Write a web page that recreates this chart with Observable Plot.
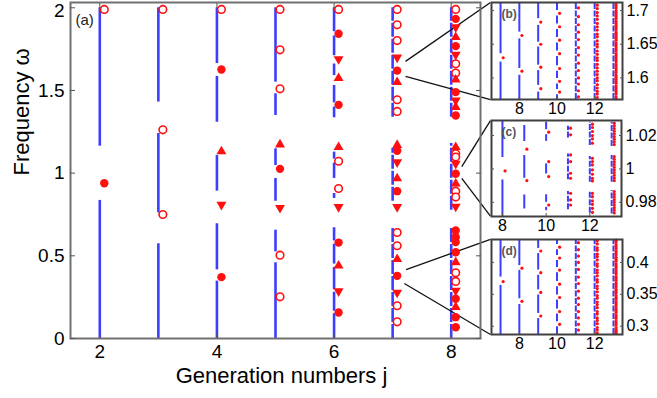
<!DOCTYPE html>
<html><head><meta charset="utf-8">
<script src="https://cdn.jsdelivr.net/npm/d3@7"></script>
<script src="https://cdn.jsdelivr.net/npm/@observablehq/plot@0.6"></script>
<style>
html,body{margin:0;padding:0;background:#fff;}
#chart{position:relative;width:657px;height:398px;overflow:hidden;font-family:"Liberation Sans",Arial,sans-serif;}
#chart svg{position:absolute;overflow:visible;background:transparent;}
</style></head><body><div id="chart"></div>
<script>
// ---------- main panel (a) ----------
const mainXTicks = [2, 4, 6, 8];
const mainYTicks = [0, 0.5, 1, 1.5, 2];
// spectral bands: [generation j, lower ω, upper ω]
const mainBands = [
  [2,0,0.835],[2,1.163,2.0],
  [3,0,0.573],[3,0.76,1.24],[3,1.43,2.0],
  [4,0,0.347],[4,0.415,0.694],[4,0.891,1.107],[4,1.308,1.585],[4,1.663,2.0],
  [5,0,0.458],[5,0.524,0.655],[5,0.83,0.968],[5,1.046,1.147],[5,1.349,1.48],[5,1.55,2.0],
  [6,0,0.15],[6,0.165,0.28],[6,0.295,0.43],[6,0.45,0.57],[6,0.59,0.67],[6,0.847,0.877],
  [6,0.968,1.06],[6,1.085,1.127],[6,1.335,1.40],[6,1.425,1.53],[6,1.59,1.66],[6,1.71,1.83],[6,1.855,2.0],
  [7,0,0.665],[7,0.83,1.15],[7,1.338,2.0],
  [8,0,0.677],[8,0.776,1.18],[8,1.338,2.0]
];
// gap / edge states: [j, ω]
const openCircles = [
  [2,1.99],[3,1.99],[3,1.262],[3,0.75],[4,1.99],[5,1.99],[5,1.746],[5,1.51],[5,0.504],[5,0.252],
  [6,1.99],[6,1.072],[6,0.907],[7,1.99],[7,1.897],[7,1.802],[7,1.444],[7,1.373],[7,0.641],[7,0.561],
  [7,0.198],[7,0.101],[8,1.99],[8,1.661],[8,1.605],[8,1.117],[8,1.097],[8,0.891],[8,0.855],[8,0.397],[8,0.345]
];
const filledCircles = [
  [2,0.939],[4,1.627],[4,0.371],[5,1.026],[6,1.843],[6,1.413],[6,0.58],[6,0.157],[7,1.62],[7,1.135],
  [7,0.891],[7,0.379],[8,1.933],[8,1.768],[8,1.49],[8,1.349],[8,0.996],[8,0.653],[8,0.613],[8,0.583],
  [8,0.522],[8,0.24],[8,0.129],[8,0.068]
];
const upTriangles = [
  [4,1.131],[5,1.173],[6,1.574],[6,1.157],[6,0.44],[7,1.55],[7,1.17],[7,0.968],[7,0.48],[8,1.822],
  [8,1.565],[8,1.40],[8,1.157],[8,0.936],[8,0.461],[8,0.19]
];
const downTriangles = [
  [4,0.809],[5,0.79],[6,1.69],[6,0.796],[6,0.286],[7,1.70],[7,1.066],[7,0.796],[7,0.278],[8,1.883],
  [8,1.716],[8,1.44],[8,1.057],[8,0.798],[8,0.29]
];
// zoom connector lines: [from j, from ω, to j, to ω] (to = inset corner)
const zoomLinks = [
  [7.22,1.676,8.67,2.032],[7.22,1.585,8.67,1.445],
  [8.18,1.04,8.67,1.318],[8.18,0.968,8.67,0.740],
  [7.23,0.417,8.67,0.599],[7.2,0.333,8.67,0.024]
];

// ---------- inset (b) ----------
const bYTicks = [1.6, 1.65, 1.7];
const bBands = [
  [7,1.568,1.6235],[7,1.636,1.712],
  [8,1.568,1.604],[8,1.614,1.658],[8,1.668,1.712],
  [9,1.568,1.579],[9,1.589,1.611],[9,1.619,1.646],[9,1.653,1.678],[9,1.688,1.712],
  [10,1.568,1.575],[10,1.583,1.591],[10,1.599,1.610],[10,1.618,1.632],[10,1.640,1.652],[10,1.660,1.672],[10,1.680,1.692],[10,1.700,1.712],
  [11,1.568,1.712],[12,1.568,1.712],[13,1.568,1.712]
];
const bDots = [
  [7,1.630],[8,1.663],[8,1.610],[9,1.683],[9,1.650],[9,1.616],[9,1.584],
  [10,1.696],[10,1.676],[10,1.656],[10,1.636],[10,1.614],[10,1.595],[10,1.579],
  [11,1.704],[11,1.691],[11,1.679],[11,1.668],[11,1.657],[11,1.645],[11,1.634],[11,1.622],[11,1.611],[11,1.600],[11,1.591],[11,1.581],[11,1.572]
];
const bCol12 = [1.708,1.703,1.697,1.692,1.687,1.681,1.676,1.671,1.665,1.661,1.655,1.650,1.646,1.640,1.635,1.630,1.626,1.620,1.615,1.610,1.605,1.600,1.596,1.590,1.585,1.580,1.576,1.571];
const bCol13 = [1.710,1.707,1.704,1.700,1.697,1.694,1.691,1.688,1.684,1.681,1.678,1.675,1.672,1.668,1.665,1.662,1.659,1.656,1.652,1.649,1.646,1.643,1.640,1.636,1.633,1.630,1.627,1.624,1.620,1.617,1.614,1.611,1.608,1.604,1.601,1.598,1.595,1.592,1.588,1.585,1.582,1.579,1.576,1.572,1.569];

// ---------- inset (c) ----------
const cYTicks = [0.98, 1, 1.02];
const cBands = [
  [8,0.9715,0.9934],[8,1.0068,1.029],
  [9,0.976,0.9844],[9,0.9944,1.008],[9,1.0164,1.026],
  [10,0.975,0.977],[10,0.980,0.9845],[10,0.997,1.003],[10,1.0165,1.0205],[10,1.0235,1.028],
  [11,0.9755,0.9865],[11,0.9935,1.009],[11,1.0185,1.0255],
  [12,0.9735,0.9865],[12,0.992,1.0075],[12,1.014,1.028],
  [13,0.973,0.987],[13,0.992,1.008],[13,1.0135,1.028]
];
const cDots = [
  [8,0.9988],[9,1.0118],[9,0.993],[10,1.022],[10,1.0044],[10,0.9954],[10,0.9784],
  [11,1.0244],[11,1.0204],[11,1.0084],[11,1.0044],[11,0.9974],[11,0.9944],[11,0.9854],[11,0.9814],[11,0.9784],
  [12,1.0268],[12,1.0248],[12,1.0224],[12,1.0200],[12,1.018],[12,1.0154],[12,1.0064],[12,1.0044],[12,1.0024],[12,0.9994],
  [12,0.9968],[12,0.9944],[12,0.9928],[12,0.9854],[12,0.9834],[12,0.9808],[12,0.9788],[12,0.9764],[12,0.974],
  [13,1.0274],[13,1.0258],[13,1.0242],[13,1.0226],[13,1.021],[13,1.0194],[13,1.0178],[13,1.0162],[13,1.0146],
  [13,1.0074],[13,1.0058],[13,1.0042],[13,1.0026],[13,1.001],[13,0.9994],[13,0.9978],[13,0.9962],[13,0.9946],[13,0.993],
  [13,0.9864],[13,0.9848],[13,0.9832],[13,0.9816],[13,0.98],[13,0.9784],[13,0.9768],[13,0.9752],[13,0.9736]
];

// ---------- inset (d) ----------
const dYTicks = [0.3, 0.35, 0.4];
const dBands = [
  [7,0.287,0.364],[7,0.377,0.436],
  [8,0.287,0.334],[8,0.343,0.3875],[8,0.395,0.436],
  [9,0.287,0.312],[9,0.320,0.349],[9,0.357,0.380],[9,0.388,0.414],[9,0.422,0.436],
  [10,0.287,0.299],[10,0.307,0.319],[10,0.327,0.341],[10,0.349,0.362],[10,0.370,0.384],[10,0.392,0.403],[10,0.411,0.420],[10,0.428,0.436],
  [11,0.287,0.436],[12,0.287,0.436],[13,0.287,0.436]
];
const dDots = [
  [7,0.370],[8,0.391],[8,0.339],[9,0.418],[9,0.384],[9,0.353],[9,0.316],
  [10,0.424],[10,0.407],[10,0.388],[10,0.366],[10,0.345],[10,0.323],[10,0.303],
  [11,0.431],[11,0.420],[11,0.410],[11,0.400],[11,0.389],[11,0.377],[11,0.367],[11,0.355],[11,0.344],[11,0.334],[11,0.323],[11,0.313],[11,0.303],[11,0.294]
];
const dCol12 = [0.434,0.429,0.423,0.419,0.413,0.409,0.404,0.398,0.394,0.388,0.384,0.379,0.373,0.369,0.363,0.359,0.354,0.348,0.344,0.338,0.334,0.329,0.323,0.319,0.313,0.309,0.304,0.298,0.294,0.289];
const dCol13 = [0.435,0.432,0.428,0.425,0.422,0.418,0.415,0.412,0.408,0.405,0.402,0.398,0.395,0.392,0.388,0.385,0.382,0.378,0.375,0.372,0.368,0.365,0.362,0.358,0.355,0.352,0.348,0.345,0.342,0.338,0.335,0.332,0.328,0.325,0.322,0.318,0.315,0.312,0.308,0.305,0.302,0.298,0.295,0.292,0.289];
const insetXTicks = [8, 10, 12];

// ---------- drawing ----------
const BLUE = "#3d3dff", RED = "#ff1010";
const FONT = "'Liberation Sans', Arial, Helvetica, sans-serif";
const fmt = d => String(d);
const blank = () => "";
const toBand = ([j, lo, hi]) => ({j, lo, hi});
const chart = document.getElementById("chart");

const bandRows = mainBands.map(toBand);
const yTop = d3.max(mainYTicks);
const main = Plot.plot({
  width: 657, height: 398,
  marginLeft: 70, marginRight: 177, marginTop: 2, marginBottom: 60,
  x: {domain: [1.5, 8.5], label: null},
  y: {domain: [0, 2.032], label: null},
  style: {fontFamily: FONT, color: "#000", background: "transparent", overflow: "visible"},
  marks: [
    Plot.ruleX(bandRows.filter(d => d.j < 7), {x: "j", y1: "lo", y2: "hi", stroke: BLUE, strokeWidth: 2.6}),
    Plot.ruleX(bandRows.filter(d => d.j >= 7), {x: "j", y1: "lo", y2: "hi", stroke: BLUE, strokeWidth: 2.6, strokeDasharray: "14,2"}),
    Plot.link(zoomLinks, {x1: d => d[0], y1: d => d[1], x2: d => d[2], y2: d => d[3], stroke: "#111", strokeWidth: 1.3}),
    Plot.dot(openCircles, {x: d => d[0], y: d => d[1], dx: 4.5, r: 3.8, stroke: RED, fill: "white", strokeWidth: 1.6}),
    Plot.dot(filledCircles, {x: d => d[0], y: d => d[1], dx: 4.5, r: 4.2, fill: RED}),
    Plot.dot(upTriangles, {x: d => d[0], y: d => d[1], dx: 4.5, r: 3.7, symbol: "triangle", fill: RED}),
    Plot.dot(downTriangles, {x: d => d[0], y: d => d[1], dx: 4.5, r: 3.7, symbol: "triangle", rotate: 180, fill: RED}),
    Plot.frame({stroke: "#707070", strokeWidth: 2}),
    Plot.axisX(mainXTicks, {anchor: "bottom", tickSize: 0, tickPadding: 6, fontSize: 19, tickFormat: fmt, label: null}),
    Plot.axisX(mainXTicks, {anchor: "bottom", tickSize: -5, tickFormat: blank, label: null, stroke: "#555"}),
    Plot.axisX(mainXTicks, {anchor: "top", tickSize: -5, tickFormat: blank, label: null, stroke: "#555"}),
    Plot.axisY(mainYTicks.filter(d => d < yTop), {anchor: "left", tickSize: 0, tickPadding: 6, fontSize: 19, tickFormat: fmt, label: null}),
    Plot.axisY(mainYTicks.filter(d => d === yTop), {anchor: "left", tickSize: 0, tickPadding: 6, dy: 3, fontSize: 19, tickFormat: fmt, label: null}),
    Plot.axisY(mainYTicks, {anchor: "left", tickSize: -5, tickFormat: blank, label: null, stroke: "#555"}),
    Plot.axisY(mainYTicks, {anchor: "right", tickSize: -5, tickFormat: blank, label: null, stroke: "#555"}),
    Plot.text(["Generation numbers j"], {frameAnchor: "bottom", dx: 6, dy: 44, fontSize: 22, fill: "#000"}),
    Plot.text(["Frequency ω"], {frameAnchor: "left", dx: -49, dy: 5, rotate: -90, fontSize: 22, fill: "#000"}),
    Plot.text(["(a)"], {frameAnchor: "top-left", dx: 5, dy: 12, textAnchor: "start", fontSize: 15, fill: "#222"})
  ]
});
main.style.left = "0px"; main.style.top = "0px";
chart.appendChild(main);

function inset({left, top, w, h, xDomain, yDomain, yTicks, bands, dots, dashFrom, label}) {
  const mL = 8, mT = 4, mR = 46, mB = 24;
  const rows = bands.map(toBand);
  const svg = Plot.plot({
    width: w + mL + mR, height: h + mT + mB,
    marginLeft: mL, marginRight: mR, marginTop: mT, marginBottom: mB,
    x: {domain: xDomain, label: null},
    y: {domain: yDomain, label: null},
    style: {fontFamily: FONT, color: "#000", background: "transparent", overflow: "visible"},
    marks: [
      Plot.ruleX(rows.filter(d => d.j < dashFrom), {x: "j", y1: "lo", y2: "hi", stroke: BLUE, strokeWidth: 2}),
      Plot.ruleX(rows.filter(d => d.j >= dashFrom), {x: "j", y1: "lo", y2: "hi", stroke: BLUE, strokeWidth: 2, strokeDasharray: "6,1.5"}),
      Plot.dot(dots, {x: d => d[0], y: d => d[1], dx: 2.6, r: 1.6, fill: RED}),
      Plot.frame({stroke: "#404040", strokeWidth: 2}),
      Plot.axisX(insetXTicks, {anchor: "bottom", tickSize: 0, tickPadding: 3, fontSize: 16, tickFormat: fmt, label: null}),
      Plot.axisX(insetXTicks, {anchor: "bottom", tickSize: -3, tickFormat: blank, label: null, stroke: "#555"}),
      Plot.axisY(yTicks, {anchor: "right", tickSize: 0, tickPadding: 4, fontSize: 16, tickFormat: fmt, label: null}),
      Plot.axisY(yTicks, {anchor: "right", tickSize: -3, tickFormat: blank, label: null, stroke: "#555"}),
      Plot.axisY(yTicks, {anchor: "left", tickSize: -3, tickFormat: blank, label: null, stroke: "#555"}),
      Plot.text([label], {frameAnchor: "top-left", dx: 10, dy: 7, textAnchor: "start", fontSize: 12, fontWeight: "bold", fill: "#555"})
    ]
  });
  svg.style.left = (left - mL) + "px";
  svg.style.top = (top - mT) + "px";
  chart.appendChild(svg);
}

inset({left: 491, top: 2, w: 131, h: 97, xDomain: [6.52, 13.48], yDomain: [1.568, 1.712], yTicks: bYTicks,
  bands: bBands, dots: bDots.concat(bCol12.map(v => [12, v]), bCol13.map(v => [13, v])), dashFrom: 11, label: "(b)"});
inset({left: 491, top: 120, w: 130, h: 96, xDomain: [7.5, 13.45], yDomain: [0.9715, 1.029], yTicks: cYTicks,
  bands: cBands, dots: cDots, dashFrom: 11, label: "(c)"});
inset({left: 491, top: 239, w: 131, h: 95, xDomain: [6.52, 13.48], yDomain: [0.287, 0.436], yTicks: dYTicks,
  bands: dBands, dots: dDots.concat(dCol12.map(v => [12, v]), dCol13.map(v => [13, v])), dashFrom: 11, label: "(d)"});
</script>
</body></html>
